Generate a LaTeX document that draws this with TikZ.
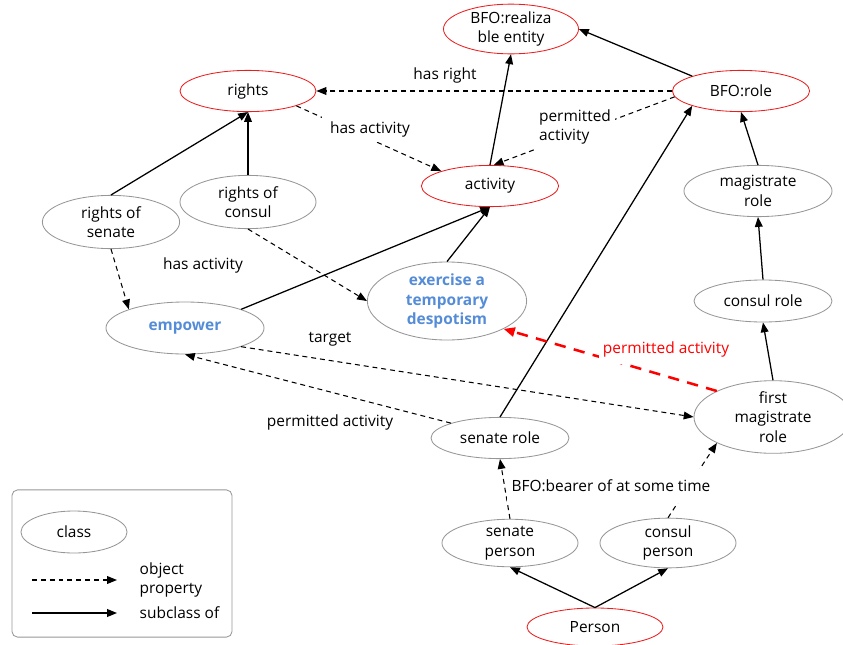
\documentclass[tikz,border=0pt]{standalone}
\usepackage{fontspec}
\setmainfont{Open Sans}
\usetikzlibrary{shapes.geometric, arrows.meta, positioning}
\definecolor{clsred}{RGB}{235,30,30}
\definecolor{clsgray}{RGB}{150,150,150}
\definecolor{instblue}{RGB}{85,140,215}

\begin{document}
\begin{tikzpicture}[
        x=0.025cm, y=-0.025cm,
        font=\fontsize{11}{14}\selectfont,
        cls/.style={ellipse, draw=clsgray, line width=0.6pt, inner sep=0pt, align=center, minimum width=3.4cm, minimum height=1.03cm},
        topcls/.style={cls, draw=clsred},
        inst/.style={cls, text=instblue, font=\fontsize{11}{14}\selectfont\bfseries},
        sub/.style={-{Triangle[length=7pt, width=5.5pt]}, line width=0.9pt},
        prop/.style={-{Triangle[length=7pt, width=5.5pt]}, line width=0.75pt, dash pattern=on 3.5pt off 2.8pt},
        hot/.style={-{Triangle[length=8pt, width=6.5pt]}, line width=1.8pt, draw=red, dash pattern=on 8pt off 6pt},
        lbl/.style={align=left, inner sep=1pt},
        gap/.style={lbl, fill=white, inner xsep=3pt, inner ysep=4pt}
    ]
        \useasboundingbox (0,0) rectangle (843,645);

        % Top classes
        \node[topcls, minimum width=3.375cm, minimum height=0.95cm] (realiz) at (511, 29) {BFO:realiza\\ble entity};
        \node[topcls] (rights) at (248, 91) {rights};
        \node[topcls, minimum width=3.43cm] (role) at (741, 91) {BFO:role};
        \node[topcls, minimum width=3.43cm] (activity) at (490, 186) {activity};
        \node[topcls, minimum height=0.95cm] (person) at (595, 627) {Person};

        % Classes
        \node[cls, minimum width=3.43cm, minimum height=1.33cm] (rsenate) at (111, 222) {rights of\\senate};
        \node[cls, minimum height=1.33cm] (rconsul) at (248, 202) {rights of\\consul};
        \node[cls, minimum width=3.7cm, minimum height=1.28cm] (magrole) at (758, 191) {magistrate\\role};
        \node[cls, minimum width=3.45cm, minimum height=1.05cm] (conrole) at (763, 301) {consul role};
        \node[cls, minimum width=3.95cm, minimum height=1.58cm] (firstmag) at (773, 417) {first\\magistrate\\role};
        \node[cls, minimum width=3.45cm] (senrole) at (500, 438) {senate role};
        \node[cls, minimum height=1.05cm] (senper) at (510, 543) {senate\\person};
        \node[cls, minimum height=1.05cm] (conper) at (668, 543) {consul\\person};

        % Instances
        \node[inst, minimum width=3.98cm, minimum height=1.95cm] (despot) at (447, 301) {exercise a\\temporary\\despotism};
        \node[inst, minimum width=3.95cm, minimum height=1.3cm] (empower) at (185, 328) {empower};

        % Subclass of
        \draw[sub] (rsenate.north) -- (rights.south);
        \draw[sub] (rconsul.north) -- (rights.south);
        \draw[sub] (activity.north) -- (realiz.south);
        \draw[sub] (role.north west) -- (realiz.east);
        \draw[sub] (empower.north east) -- (activity.south);
        \draw[sub] (despot.north) -- (activity.south);
        \draw[sub] (senrole.north) -- (role.south west);
        \draw[sub] (magrole.north) -- (role.south);
        \draw[sub] (conrole.north) -- (magrole.south);
        \draw[sub] (firstmag.north) -- (conrole.south);
        \draw[sub] (person.north) -- (senper.south);
        \draw[sub] (person.north) -- (conper.south);

        % Object properties
        \draw[prop] (role.west) -- (rights.east);
        \draw[prop] (rights.south east) -- (activity.north west);
        \draw[prop] (role.185) -- (activity.80);
        \draw[prop] (rsenate.south) -- (empower.north west);
        \draw[prop] (rconsul.south) -- (despot.west);
        \draw[prop] (empower.south east) -- (firstmag.west);
        \draw[prop] (senrole.north west) -- (empower.south);
        \draw[prop] (senper.north) -- (senrole.south);
        \draw[prop] (conper.north) -- (firstmag.south west);
        \draw[hot] (firstmag.north west) -- (despot.south east);

        % Property labels
        \node[lbl] (lright) at (445, 75) {has right};
        \node[gap, inner xsep=6pt] (lact1) at (370, 129) {has activity};
        \node[gap] (lperm1) at (575, 127) {permitted\\activity};
        \node[lbl] (lact2) at (203, 265) {has activity};
        \node[lbl] (ltarget) at (330, 339) {target};
        \node[lbl] (lperm2) at (330, 422) {permitted activity};
        \node[gap, inner ysep=8pt] (lbearer) at (611, 486) {BFO:bearer of at some time};
        \node[gap, text=red, inner ysep=5pt] (lperm3) at (666, 349) {permitted activity};

        % Legend
        \node[draw=clsgray, rounded corners=4pt, line width=0.6pt, minimum width=5.5cm, minimum height=3.68cm] (legend) at (122, 563.5) {};
        \node[cls, minimum width=2.65cm, minimum height=1.05cm] (lgcls) at (74, 532) {class};
        \coordinate (pa) at (32, 580);
        \coordinate (pb) at (117, 580);
        \coordinate (sa) at (32, 613);
        \coordinate (sb) at (117, 613);
        \draw[prop] (pa) -- (pb);
        \draw[sub] (sa) -- (sb);
        \node[lbl, anchor=west] (lgprop) at (138, 580) {object\\property};
        \node[lbl, anchor=west] (lgsub) at (138, 613) {subclass of};
    \end{tikzpicture}
\end{document}
